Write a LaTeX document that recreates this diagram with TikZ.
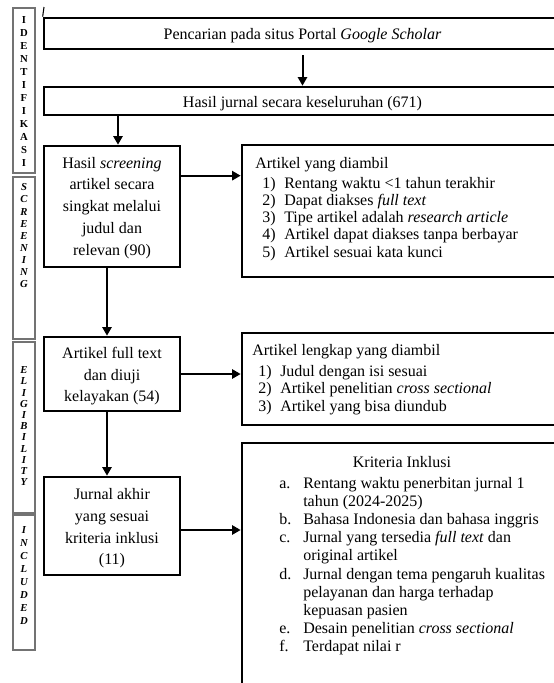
\documentclass[tikz,border=0pt]{standalone}
\usepackage{fontspec}
\setmainfont{Liberation Serif}
\usetikzlibrary{arrows.meta,fit}
\newcommand\numlbl[2]{\makebox[#1][l]{#2}}
\begin{document}
\begin{tikzpicture}[x=0.75pt,y=-0.75pt,
  mainbox/.style={draw,line width=2pt,inner sep=0pt},
  sidebox/.style={draw=black!55,line width=0.8pt,inner sep=0pt},
  flow/.style={line width=1.5pt,-{Triangle[length=6.5pt,width=7pt]}},
  txt/.style={font=\fontsize{12}{14}\selectfont,inner sep=0pt},
  ltxt/.style={txt,anchor=base west},
  ctxt/.style={font=\fontsize{12}{16.3}\selectfont,inner sep=0pt,align=center},
  side/.style={font=\fontsize{8}{#1}\selectfont\bfseries,inner sep=0pt,align=center,anchor=north},
  sidei/.style={side=#1,font=\fontsize{8}{#1}\selectfont\bfseries\itshape},
  ]
\useasboundingbox (0,0) rectangle (554,683);
\clip (0,0) rectangle (554,683);

% side stage boxes
\node[sidebox,fit={(13,8)(35,173)}] (s1) {};
\node[sidebox,fit={(13,177)(35,339)}] (s2) {};
\node[sidebox,fit={(13,342)(35,513)}] (s3) {};
\node[sidebox,fit={(13,515)(35,650)}] (s4) {};
\node[side=9.7] (l1) at (24,16.5) {I\\D\\E\\N\\T\\I\\F\\I\\K\\A\\S\\I};
\node[sidei=9.1] (l2) at (24,183.5) {S\\C\\R\\E\\E\\N\\I\\N\\G};
\node[sidei=8.4] (l3) at (24,366.5) {E\\L\\I\\G\\I\\B\\I\\L\\I\\T\\Y};
\node[sidei=9.7] (l4) at (24,526.5) {I\\N\\C\\L\\U\\D\\E\\D};

% main boxes
\node[mainbox,fit={(44,18)(561,49)}] (b1) {};
\node[mainbox,fit={(44,87)(561,115)}] (b2) {};
\node[mainbox,fit={(44,146)(180,267)}] (b3) {};
\node[mainbox,fit={(242,145)(600,277)}] (b4) {};
\node[mainbox,fit={(44,337)(180,411)}] (b5) {};
\node[mainbox,fit={(242,333)(600,425)}] (b6) {};
\node[mainbox,fit={(44,477)(180,575)}] (b7) {};
\node[mainbox,fit={(242,443)(600,720)}] (b8) {};
\coordinate (tl) at (44,7);
\draw[line width=0.8pt] (tl) -- (b1.north west);

% texts
\node[txt,anchor=base] (t1) at (302.5,39) {Pencarian pada situs Portal \textit{Google Scholar}};
\node[txt,anchor=base] (t2) at (302.5,107) {Hasil jurnal secara keseluruhan (671)};
\node[ctxt] (t3) at (112,207.8) {Hasil \textit{screening}\\artikel secara\\singkat melalui\\judul dan\\relevan (90)};
\node[ctxt] (t5) at (112,376.3) {Artikel full text\\dan diuji\\kelayakan (54)};
\node[ctxt] (t7) at (112,528.3) {Jurnal akhir\\yang sesuai\\kriteria inklusi\\(11)};

\node[ltxt] (h4) at (255,168) {Artikel yang diambil};
\node[ltxt] (i41) at (262,188) {\numlbl{16.5pt}{1)}Rentang waktu <1 tahun terakhir};
\node[ltxt] (i42) at (262,205.25) {\numlbl{16.5pt}{2)}Dapat diakses \textit{full text}};
\node[ltxt] (i43) at (262,222.5) {\numlbl{16.5pt}{3)}Tipe artikel adalah \textit{research article}};
\node[ltxt] (i44) at (262,239.75) {\numlbl{16.5pt}{4)}Artikel dapat diakses tanpa berbayar};
\node[ltxt] (i45) at (262,257) {\numlbl{16.5pt}{5)}Artikel sesuai kata kunci};

\node[ltxt] (h6) at (252,355) {Artikel lengkap yang diambil};
\node[ltxt] (i61) at (258,376) {\numlbl{16.5pt}{1)}Judul dengan isi sesuai};
\node[ltxt] (i62) at (258,393.5) {\numlbl{16.5pt}{2)}Artikel penelitian \textit{cross sectional}};
\node[ltxt] (i63) at (258,411) {\numlbl{16.5pt}{3)}Artikel yang bisa diundub};

\node[txt,anchor=base] (h8) at (402,467) {Kriteria Inklusi};
\node[ltxt] (i81) at (279,488) {\numlbl{18pt}{a.}Rentang waktu penerbitan jurnal 1};
\node[ltxt] (i81b) at (303,506.2) {tahun (2024-2025)};
\node[ltxt] (i82) at (279,524.4) {\numlbl{18pt}{b.}Bahasa Indonesia dan bahasa inggris};
\node[ltxt] (i83) at (279,542.6) {\numlbl{18pt}{c.}Jurnal yang tersedia \textit{full text} dan};
\node[ltxt] (i83b) at (303,560.8) {original artikel};
\node[ltxt] (i84) at (279,579) {\numlbl{18pt}{d.}Jurnal dengan tema pengaruh kualitas};
\node[ltxt] (i84b) at (303,597.2) {pelayanan dan harga terhadap};
\node[ltxt] (i84c) at (303,615.4) {kepuasan pasien};
\node[ltxt] (i85) at (279,633.6) {\numlbl{18pt}{e.}Desain penelitian \textit{cross sectional}};
\node[ltxt] (i86) at (279,651.8) {\numlbl{18pt}{f.}Terdapat nilai r};

% connectors
\draw[flow,shorten <=3.5pt] (b1.south) -- (b2.north);
\coordinate (a2) at ([xshift=4.5pt]b3.north);
\draw[flow] (a2 |- b2.south) -- (a2);
\coordinate (a3) at ([yshift=-23.25pt]b3.north east);
\draw[flow] (a3) -- (a3 -| b4.west);
\coordinate (a4) at ([xshift=-3.75pt]b3.south);
\draw[flow] (a4) -- (a4 |- b5.north);
\draw[flow] (b5.east) -- (b5.east -| b6.west);
\coordinate (a6) at ([xshift=-3.75pt]b5.south);
\draw[flow] (a6) -- (a6 |- b7.north);
\coordinate (a7) at ([yshift=-3pt]b7.east);
\draw[flow] (a7) -- (a7 -| b8.west);
\end{tikzpicture}
\end{document}
